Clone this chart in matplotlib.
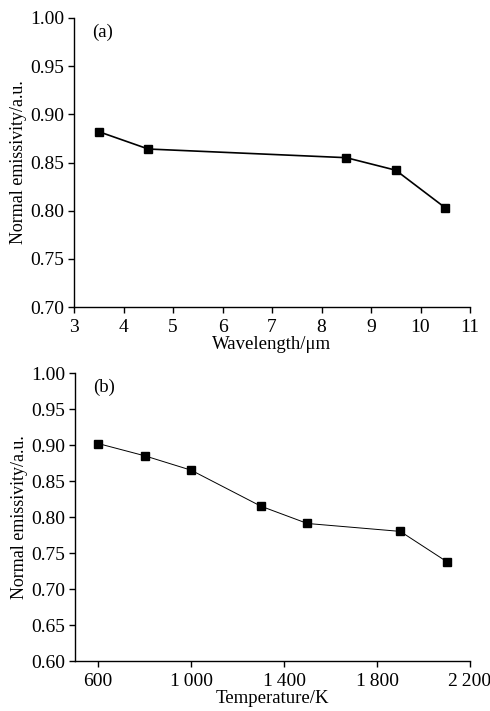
import matplotlib
matplotlib.use("Agg")
import matplotlib.pyplot as plt

plt.rcParams['font.family'] = ['Liberation Serif', 'DejaVu Serif']

# (a) emissivity vs wavelength
wavelength = [3.5, 4.5, 8.5, 9.5, 10.5]
emis_a = [0.882, 0.864, 0.855, 0.842, 0.803]

# (b) emissivity vs temperature
temperature = [600, 800, 1000, 1300, 1500, 1900, 2100]
emis_b = [0.902, 0.885, 0.865, 0.815, 0.791, 0.780, 0.738]
temp_ticks = [600, 1000, 1400, 1800, 2200]
temp_labels = ['600', '1\u2009000', '1\u2009400', '1\u2009800', '2\u2009200']

fig = plt.figure(figsize=(4.9, 7.11), dpi=100)
W, H = 490, 711
ax1 = fig.add_axes([74 / W, 1 - 307 / H, (470 - 74) / W, (307 - 18) / H])
ax2 = fig.add_axes([75 / W, 1 - 661 / H, (470 - 75) / W, (661 - 373) / H])


def style(ax):
    for s in ['top', 'right']:
        ax.spines[s].set_visible(False)
    for s in ['left', 'bottom']:
        ax.spines[s].set_linewidth(1.0)
    ax.tick_params(direction='out', length=4.3, width=1.0, labelsize=14)
    ax.tick_params(axis='x', pad=4)
    ax.tick_params(axis='y', pad=3)
    ax.set_ylabel('Normal emissivity/a.u.', fontsize=13, labelpad=2)


ax1.plot(wavelength, emis_a, color='black', lw=1.2, marker='s', ms=5.5)
ax1.set_xlim(3, 11)
ax1.set_ylim(0.70, 1.00)
ax1.set_xticks(range(3, 12))
ax1.set_yticks([0.70, 0.75, 0.80, 0.85, 0.90, 0.95, 1.00])
ax1.set_yticklabels(['%.2f' % v for v in ax1.get_yticks()])
ax1.set_xlabel('Wavelength/\u03bcm', fontsize=13.5, labelpad=0)
ax1.text(0.045, 0.95, '(a)', transform=ax1.transAxes, fontsize=13.5, va='center')
style(ax1)

ax2.plot(temperature, emis_b, color='black', lw=0.7, marker='s', ms=5.5)
ax2.set_xlim(500, 2200)
ax2.set_ylim(0.60, 1.00)
ax2.set_xticks(temp_ticks)
ax2.set_xticklabels(temp_labels)
ax2.set_yticks([0.60, 0.65, 0.70, 0.75, 0.80, 0.85, 0.90, 0.95, 1.00])
ax2.set_yticklabels(['%.2f' % v for v in ax2.get_yticks()])
ax2.set_xlabel('Temperature/K', fontsize=13.5, labelpad=0)
ax2.text(0.045, 0.95, '(b)', transform=ax2.transAxes, fontsize=13.5, va='center')
style(ax2)

fig.savefig('out.png', dpi=100)
